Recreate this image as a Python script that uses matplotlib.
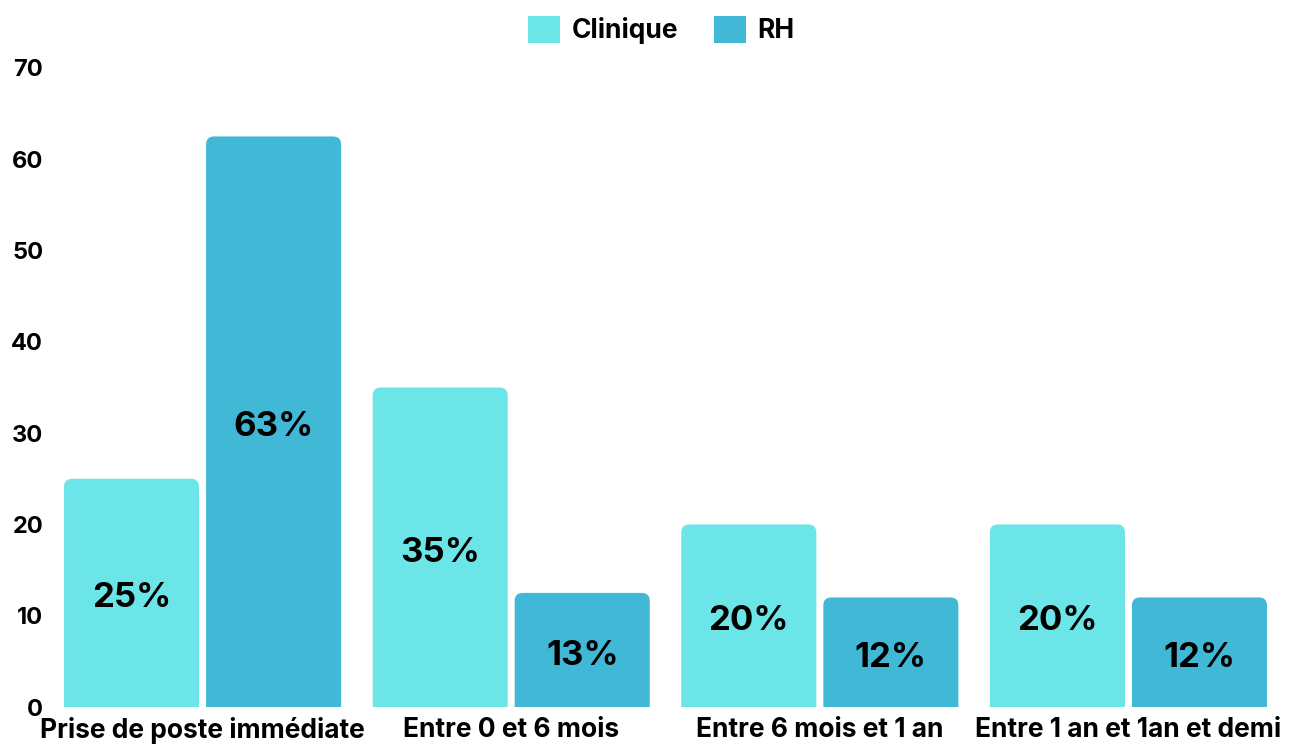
import matplotlib.pyplot as plt
import numpy as np
from matplotlib.patches import FancyBboxPatch, Patch

plt.rcParams['font.family'] = ['Inter', 'DejaVu Sans']
plt.rcParams['font.weight'] = 'bold'

categories = ["Prise de poste immédiate", "Entre 0 et 6 mois",
              "Entre 6 mois et 1 an", "Entre 1 an et 1an et demi"]
clinique = [25, 35, 20, 20]
rh = [62.5, 12.5, 12, 12]
clinique_labels = ["25%", "35%", "20%", "20%"]
rh_labels = ["63%", "13%", "12%", "12%"]
series_names = ["Clinique", "RH"]
colors = ["#6CE5E8", "#41B8D5"]

fig = plt.figure(figsize=(12.99, 7.46), dpi=100)
ax = fig.add_axes([64 / 1299, 39 / 746, (1267 - 64) / 1299, (707 - 68) / 746])

x = np.arange(len(categories))
width = 0.4376
gap = 0.0227
offsets = [-(width + gap) / 2, (width + gap) / 2]

# pixel scale -> coins arrondis sur le haut seulement
px_x = 1 / 308.5
px_y = 10 / 91.3
radius = 8 * px_x
aspect = px_y / px_x

for vals, labels, off, col in zip([clinique, rh], [clinique_labels, rh_labels], offsets, colors):
    for xi, v, lab in zip(x, vals, labels):
        left = xi + off - width / 2
        # bas prolongé sous 0 pour garder les coins du bas carrés (clip par l'axe)
        patch = FancyBboxPatch((left, -2), width, v + 2,
                               boxstyle="round,pad=0,rounding_size=%f" % radius,
                               mutation_aspect=aspect, facecolor=col,
                               edgecolor='none', clip_on=True)
        ax.add_patch(patch)
        ax.annotate(lab, (xi + off, v / 2), xytext=(0, -4), textcoords='offset points',
                    ha='center', va='center', fontsize=25, fontweight='bold',
                    color='black')

ax.set_xlim(-0.449, 3.449)
ax.set_ylim(0, 70)
ax.set_yticks(range(0, 71, 10))
ax.set_xticks(x)
ax.set_xticklabels(categories)
ax.tick_params(axis='both', length=0)
ax.tick_params(axis='y', pad=15, labelsize=17)
ax.tick_params(axis='x', pad=7, labelsize=19)
for lab in ax.get_xticklabels() + ax.get_yticklabels():
    lab.set_fontweight('bold')
for s in ax.spines.values():
    s.set_visible(False)

handles = [Patch(facecolor=c, edgecolor='none') for c in colors]
fig.legend(handles, series_names, loc='center', bbox_to_anchor=(0.509, 0.96),
           ncol=2, frameon=False, prop={'size': 19, 'weight': 'bold'},
           handlelength=1.21, handleheight=1.21, handletextpad=0.45,
           columnspacing=1.36)

fig.savefig("out.png", dpi=100)
